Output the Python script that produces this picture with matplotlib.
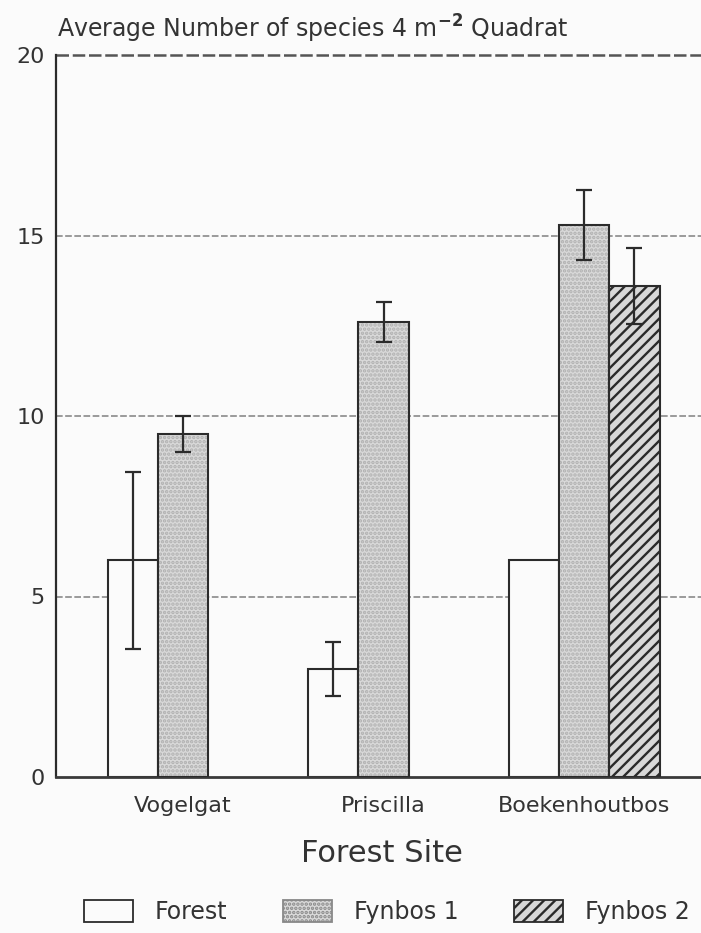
import numpy as np
import matplotlib
matplotlib.use('Agg')
import matplotlib.pyplot as plt
from matplotlib.patches import Patch

plt.rcParams['font.family'] = ['DejaVu Sans']
plt.rcParams['hatch.linewidth'] = 1.7

# data
sites = ['Vogelgat', 'Priscilla', 'Boekenhoutbos']
forest = [6.0, 3.0, 6.0]
forest_err = [2.45, 0.75, 0.0]
fynbos1 = [9.5, 12.6, 15.3]
fynbos1_err = [0.5, 0.55, 0.97]
fynbos2 = [np.nan, np.nan, 13.6]
fynbos2_err = [0.0, 0.0, 1.05]

ink = '#2b2b2b'
txt = '#333333'
bg = '#fbfbfb'

fig = plt.figure(figsize=(7.01, 9.33), dpi=100, facecolor=bg)
ax = fig.add_axes([56/701, 156/933, 0.93, 722/933], facecolor=bg)

x = np.arange(len(sites))
w = 0.25

# grid lines behind bars
for yy in [5, 10, 15]:
    ax.axhline(yy, color='#8a8a8a', lw=1.2, ls=(0, (4, 1.5)), zorder=0)
ax.axhline(20, color='#555555', lw=1.8, ls=(0, (5, 1.5)), zorder=0, clip_on=False)

ekw = dict(ecolor=ink, elinewidth=1.6, capsize=6, capthick=1.6, zorder=4)

# Forest
ax.bar(x - w, forest, w, color=bg, edgecolor=ink, lw=1.5, zorder=2)
ferr = [e if e > 0 else np.nan for e in forest_err]
ax.errorbar(x - w, forest, yerr=ferr, fmt='none', **ekw)

# Fynbos 1 (stippled)
ax.bar(x, fynbos1, w, color='#d9d9d9', edgecolor='#b0b0b0', hatch='....', lw=0, zorder=2)
ax.bar(x, fynbos1, w, fill=False, edgecolor=ink, lw=1.5, zorder=3)
ax.errorbar(x, fynbos1, yerr=fynbos1_err, fmt='none', **ekw)

# Fynbos 2 (hatched)
ax.bar(x + w, fynbos2, w, color='#d8d8d8', edgecolor='#2a2a2a', hatch='///', lw=0, zorder=2)
ax.bar(x + w, fynbos2, w, fill=False, edgecolor=ink, lw=1.5, zorder=3)
f2err = [e if e > 0 else np.nan for e in fynbos2_err]
ax.errorbar(x + w, fynbos2, yerr=f2err, fmt='none', **ekw)

ax.set_xlim(-0.632, 2.616)
ax.set_ylim(0, 20)
ax.set_yticks([0, 5, 10, 15, 20])
ax.set_xticks(x)
ax.set_xticklabels(sites)
ax.tick_params(axis='both', length=0, labelsize=16, colors=txt)
ax.tick_params(axis='x', pad=14)
ax.tick_params(axis='y', pad=8)

for s in ['top', 'right']:
    ax.spines[s].set_visible(False)
ax.spines['left'].set_color(ink)
ax.spines['left'].set_linewidth(1.6)
ax.spines['bottom'].set_color('#3a3a3a')
ax.spines['bottom'].set_linewidth(2.0)

ax.set_xlabel('Forest Site', fontsize=22, color=txt, labelpad=16)

fig.text(57/701, 1 - 29/933, r'Average Number of species 4 m$^{\mathbf{-2}}$ Quadrat',
         fontsize=17, color=txt, ha='left', va='center')

handles = [
    Patch(facecolor=bg, edgecolor=ink, lw=1.3),
    Patch(facecolor='#d9d9d9', edgecolor='#888888', hatch='....', lw=1.3),
    Patch(facecolor='#d8d8d8', edgecolor='#2a2a2a', hatch='///', lw=1.3),
]
fig.legend(handles, ['Forest', 'Fynbos 1', 'Fynbos 2'], loc='center',
           bbox_to_anchor=(0.552, 1 - 912/933), ncol=3, frameon=False, fontsize=17,
           handlelength=2.05, handleheight=1.1, columnspacing=2.35, handletextpad=0.95,
           labelcolor=txt)

fig.savefig('out.png', dpi=100, facecolor=bg)
